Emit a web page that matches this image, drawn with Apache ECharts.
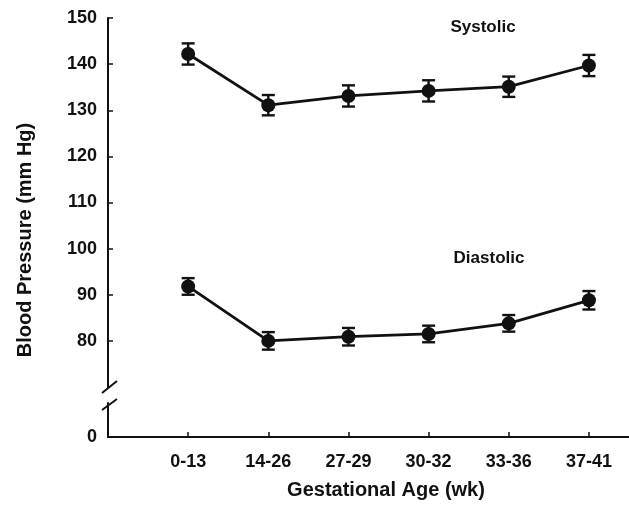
<!DOCTYPE html>
<html><head><meta charset="utf-8">
<script src="https://cdn.jsdelivr.net/npm/echarts@6/dist/echarts.min.js"></script>
<style>html,body{margin:0;padding:0;background:#fff}#c{width:629px;height:508px}</style>
</head><body><div id="c"></div>
<script>
var categories = ['0-13','14-26','27-29','30-32','33-36','37-41'];
var positions = [1,2,3,4,5,6];
var systolic = [142.2, 131.1, 133.1, 134.2, 135.1, 139.7];
var systolicErr = [2.3, 2.2, 2.3, 2.3, 2.2, 2.3];
var diastolic = [91.8, 80.0, 80.9, 81.5, 83.8, 88.8];
var diastolicErr = [1.8, 1.9, 1.9, 1.8, 1.8, 2.0];
var upperTicks = [80,90,100,110,120,130,140,150];

var FONT = '"Liberation Sans", Arial, sans-serif';
function pts(vals){ return vals.map(function(v,i){ return [positions[i], v]; }); }
function errs(vals, e){ return vals.map(function(v,i){ return [positions[i], v - e[i], v + e[i]]; }); }
function errRender(params, api){
  var x = api.value(0);
  var lo = api.coord([x, api.value(1)]);
  var hi = api.coord([x, api.value(2)]);
  var w = 6.5;
  var st = {stroke:'#111', lineWidth:2.4};
  return {type:'group', children:[
    {type:'line', shape:{x1:lo[0],y1:lo[1],x2:hi[0],y2:hi[1]}, style:st},
    {type:'line', shape:{x1:lo[0]-w,y1:lo[1],x2:lo[0]+w,y2:lo[1]}, style:st},
    {type:'line', shape:{x1:hi[0]-w,y1:hi[1],x2:hi[0]+w,y2:hi[1]}, style:st}
  ]};
}
var chart = echarts.init(document.getElementById('c'));
var lineSeries = function(name, data){
  return {name:name, type:'line', xAxisIndex:0, yAxisIndex:0, data:pts(data),
    symbol:'circle', symbolSize:14, lineStyle:{color:'#111', width:2.8},
    itemStyle:{color:'#111'}, z:3, animation:false};
};
chart.setOption({
  animation:false,
  backgroundColor:'#fff',
  grid:[
    {left:108, top:18, width:521, height:369},
    {left:108, top:403, width:521, height:34}
  ],
  xAxis:[
    {gridIndex:0, type:'value', min:0, max:6.5, show:false},
    {gridIndex:1, type:'value', min:0, max:6.5,
      axisLine:{show:true, lineStyle:{color:'#111', width:2}},
      axisTick:{show:true, inside:true, length:5, customValues:positions, lineStyle:{color:'#111', width:1.5}},
      axisLabel:{customValues:positions, formatter:function(v){ return categories[Math.round(v)-1]; },
        color:'#111', fontFamily:FONT, fontWeight:'bold', fontSize:18, margin:16},
      splitLine:{show:false},
      name:'Gestational Age (wk)', nameLocation:'middle', nameGap:43,
      nameTextStyle:{color:'#111', fontFamily:FONT, fontWeight:'bold', fontSize:20, padding:[0,0,0,35]}}
  ],
  yAxis:[
    {gridIndex:0, type:'value', min:70, max:150,
      axisLine:{show:true, lineStyle:{color:'#111', width:2}},
      axisTick:{show:true, inside:true, length:5, customValues:upperTicks, lineStyle:{color:'#111', width:1.5}},
      axisLabel:{customValues:upperTicks, color:'#111', fontFamily:FONT, fontWeight:'bold', fontSize:18, margin:11},
      splitLine:{show:false}},
    {gridIndex:1, type:'value', min:0, max:10,
      axisLine:{show:true, lineStyle:{color:'#111', width:2}},
      axisTick:{show:false},
      axisLabel:{customValues:[0], color:'#111', fontFamily:FONT, fontWeight:'bold', fontSize:18, margin:11},
      splitLine:{show:false}}
  ],
  series:[
    lineSeries('Systolic', systolic),
    lineSeries('Diastolic', diastolic),
    {type:'custom', xAxisIndex:0, yAxisIndex:0, data:errs(systolic, systolicErr), renderItem:errRender, z:4, animation:false},
    {type:'custom', xAxisIndex:0, yAxisIndex:0, data:errs(diastolic, diastolicErr), renderItem:errRender, z:4, animation:false}
  ],
  graphic:[
    {type:'line', shape:{x1:102, y1:393, x2:117, y2:381}, style:{stroke:'#111', lineWidth:2}},
    {type:'line', shape:{x1:102, y1:410, x2:117, y2:399}, style:{stroke:'#111', lineWidth:2}},
    {type:'text', x:25, y:240, rotation:Math.PI/2, style:{text:'Blood Pressure (mm Hg)', fill:'#111', font:'bold 20px '+FONT, textAlign:'center', textVerticalAlign:'middle'}},
    {type:'text', x:483, y:27, style:{text:'Systolic', fill:'#111', font:'bold 17px '+FONT, textAlign:'center', textVerticalAlign:'middle'}},
    {type:'text', x:489, y:258, style:{text:'Diastolic', fill:'#111', font:'bold 17px '+FONT, textAlign:'center', textVerticalAlign:'middle'}}
  ]
});
</script></body></html>
